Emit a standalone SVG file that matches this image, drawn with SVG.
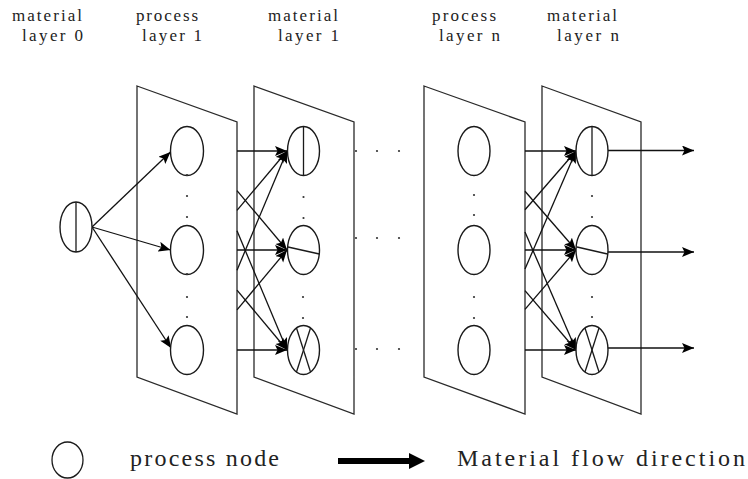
<svg xmlns="http://www.w3.org/2000/svg" width="748" height="479" viewBox="0 0 748 479">
<style>
  .panel { fill: none; stroke: #2a2a2a; stroke-width: 1.3; }
  .node { fill: #fff; stroke: #1a1a1a; stroke-width: 1.4; }
  .inner { stroke: #1a1a1a; stroke-width: 1.3; fill: none; }
  .edge { stroke: #111; stroke-width: 1.3; fill: none; marker-end: url(#ah); }
  .dot { fill: #333; }
  .hdr { font-family: "Liberation Serif", "DejaVu Serif", serif; font-size: 17px; fill: #222; }
  .leg { font-family: "Liberation Serif", "DejaVu Serif", serif; font-size: 24px; fill: #222; }
</style>
<defs>
  <marker id="ah" markerUnits="userSpaceOnUse" markerWidth="13" markerHeight="11" refX="12" refY="5" orient="auto">
    <path d="M0,0 L12,5 L0,10 L2.5,5 Z" fill="#000"/>
  </marker>
</defs>
<rect width="748" height="479" fill="#fff"/>

<g id="headers">
  <text class="hdr" x="12" y="21" textLength="70" lengthAdjust="spacing">material</text>
  <text class="hdr" x="22" y="41" textLength="61" lengthAdjust="spacing">layer 0</text>
  <text class="hdr" x="136" y="21" textLength="62" lengthAdjust="spacing">process</text>
  <text class="hdr" x="142" y="41" textLength="60" lengthAdjust="spacing">layer 1</text>
  <text class="hdr" x="268" y="21" textLength="70" lengthAdjust="spacing">material</text>
  <text class="hdr" x="278" y="41" textLength="61" lengthAdjust="spacing">layer 1</text>
  <text class="hdr" x="432" y="21" textLength="64" lengthAdjust="spacing">process</text>
  <text class="hdr" x="439" y="41" textLength="61" lengthAdjust="spacing">layer n</text>
  <text class="hdr" x="547" y="21" textLength="70" lengthAdjust="spacing">material</text>
  <text class="hdr" x="557" y="41" textLength="62" lengthAdjust="spacing">layer n</text>
</g>

<g id="panel-process-1">
  <path class="panel" d="M137,86 L237,122 L237,414 L137,377 Z"/>
</g>
<g id="panel-material-1">
  <path class="panel" d="M254,86 L354,122 L354,414 L254,377 Z"/>
</g>
<g id="panel-process-n">
  <path class="panel" d="M424,86 L525,122 L525,414 L424,377 Z"/>
</g>
<g id="panel-material-n">
  <path class="panel" d="M542,86 L641,122 L641,414 L542,377 Z"/>
</g>

<g id="connectors">
  <line class="edge" x1="92" y1="227" x2="170.5" y2="152"/>
  <line class="edge" x1="92" y1="227" x2="170.5" y2="250"/>
  <line class="edge" x1="92" y1="227" x2="171" y2="348"/>
  <line class="edge" x1="237" y1="151" x2="287" y2="151"/>
  <line class="edge" x1="237" y1="210.3" x2="287" y2="151"/>
  <line class="edge" x1="237" y1="270.2" x2="287" y2="151"/>
  <line class="edge" x1="237" y1="190.7" x2="287" y2="250"/>
  <line class="edge" x1="237" y1="250" x2="287" y2="250"/>
  <line class="edge" x1="237" y1="309.9" x2="287" y2="250"/>
  <line class="edge" x1="237" y1="230.8" x2="287" y2="350"/>
  <line class="edge" x1="237" y1="290.1" x2="287" y2="350"/>
  <line class="edge" x1="237" y1="350" x2="287" y2="350"/>
  <line class="edge" x1="525" y1="151" x2="576" y2="151"/>
  <line class="edge" x1="525" y1="209.7" x2="576" y2="151"/>
  <line class="edge" x1="525" y1="269" x2="576" y2="151"/>
  <line class="edge" x1="525" y1="191.3" x2="576" y2="250"/>
  <line class="edge" x1="525" y1="250" x2="576" y2="250"/>
  <line class="edge" x1="525" y1="309.3" x2="576" y2="250"/>
  <line class="edge" x1="525" y1="232" x2="576" y2="350"/>
  <line class="edge" x1="525" y1="290.7" x2="576" y2="350"/>
  <line class="edge" x1="525" y1="350" x2="576" y2="350"/>
  <line class="edge" x1="608" y1="150.5" x2="694" y2="150.5"/>
  <line class="edge" x1="607" y1="252" x2="694" y2="252"/>
  <line class="edge" x1="608" y1="348" x2="694" y2="348"/>
</g>

<g id="node-m0">
  <ellipse class="node" cx="76" cy="227" rx="16" ry="25"/>
  <line class="inner" x1="76" y1="202" x2="76" y2="252"/>
</g>

<g id="node-p1-1"><ellipse class="node" cx="187" cy="151" rx="16.5" ry="24.5"/></g>
<g id="node-p1-2"><ellipse class="node" cx="187" cy="250" rx="16.5" ry="24.5"/></g>
<g id="node-p1-3"><ellipse class="node" cx="187" cy="350" rx="16.5" ry="24.5"/></g>

<g id="node-m1-1">
  <ellipse class="node" cx="303.5" cy="151" rx="16" ry="24.5"/>
  <line class="inner" x1="303.5" y1="126.5" x2="303.5" y2="175.5"/>
</g>
<g id="node-m1-2">
  <ellipse class="node" cx="303.5" cy="250" rx="16" ry="24.5"/>
  <line class="inner" x1="288" y1="247" x2="319.3" y2="254"/>
</g>
<g id="node-m1-3">
  <ellipse class="node" cx="303.5" cy="350" rx="16" ry="24.5"/>
  <line class="inner" x1="296.5" y1="328" x2="310.5" y2="372"/>
  <line class="inner" x1="310.5" y1="328" x2="296.5" y2="372"/>
</g>

<g id="node-pn-1"><ellipse class="node" cx="474" cy="151" rx="16" ry="24.5"/></g>
<g id="node-pn-2"><ellipse class="node" cx="474" cy="250" rx="16" ry="24.5"/></g>
<g id="node-pn-3"><ellipse class="node" cx="474" cy="350" rx="16" ry="24.5"/></g>

<g id="node-mn-1">
  <ellipse class="node" cx="592" cy="151" rx="16" ry="24.5"/>
  <line class="inner" x1="592" y1="126.5" x2="592" y2="175.5"/>
</g>
<g id="node-mn-2">
  <ellipse class="node" cx="592" cy="250" rx="16" ry="24.5"/>
  <line class="inner" x1="577" y1="247" x2="607.5" y2="254"/>
</g>
<g id="node-mn-3">
  <ellipse class="node" cx="592" cy="350" rx="16" ry="24.5"/>
  <line class="inner" x1="585" y1="328" x2="599" y2="372"/>
  <line class="inner" x1="599" y1="328" x2="585" y2="372"/>
</g>

<g id="ellipsis-dots">
  <circle class="dot" cx="187" cy="175" r="1.1"/>
  <circle class="dot" cx="187" cy="196" r="1.1"/>
  <circle class="dot" cx="187" cy="217" r="1.1"/>
  <circle class="dot" cx="187" cy="274" r="1.1"/>
  <circle class="dot" cx="187" cy="297" r="1.1"/>
  <circle class="dot" cx="187" cy="317" r="1.1"/>
  <circle class="dot" cx="303.5" cy="197" r="1.1"/>
  <circle class="dot" cx="303.5" cy="218" r="1.1"/>
  <circle class="dot" cx="303" cy="297" r="1.1"/>
  <circle class="dot" cx="303" cy="318" r="1.1"/>
  <circle class="dot" cx="474" cy="195" r="1.1"/>
  <circle class="dot" cx="474" cy="215" r="1.1"/>
  <circle class="dot" cx="474" cy="297" r="1.1"/>
  <circle class="dot" cx="474" cy="318" r="1.1"/>
  <circle class="dot" cx="592" cy="196" r="1.1"/>
  <circle class="dot" cx="592" cy="217" r="1.1"/>
  <circle class="dot" cx="592" cy="297" r="1.1"/>
  <circle class="dot" cx="592" cy="317" r="1.1"/>
  <circle class="dot" cx="356" cy="151" r="1.1"/>
  <circle class="dot" cx="377" cy="151" r="1.1"/>
  <circle class="dot" cx="399" cy="151" r="1.1"/>
  <circle class="dot" cx="356" cy="238" r="1.1"/>
  <circle class="dot" cx="377" cy="238" r="1.1"/>
  <circle class="dot" cx="399" cy="238" r="1.1"/>
  <circle class="dot" cx="356" cy="349" r="1.1"/>
  <circle class="dot" cx="377" cy="349" r="1.1"/>
  <circle class="dot" cx="399" cy="349" r="1.1"/>
</g>

<g id="legend">
  <ellipse cx="67.5" cy="460" rx="15.5" ry="18" fill="none" stroke="#1a1a1a" stroke-width="1.3"/>
  <text class="leg" x="130" y="466" textLength="149" lengthAdjust="spacing">process node</text>
  <rect x="338" y="458" width="74" height="6" fill="#000"/>
  <path d="M409,453 L425,461 L409,469 Z" fill="#000"/>
  <text class="leg" x="457" y="466" textLength="288" lengthAdjust="spacing">Material flow direction</text>
</g>
</svg>
